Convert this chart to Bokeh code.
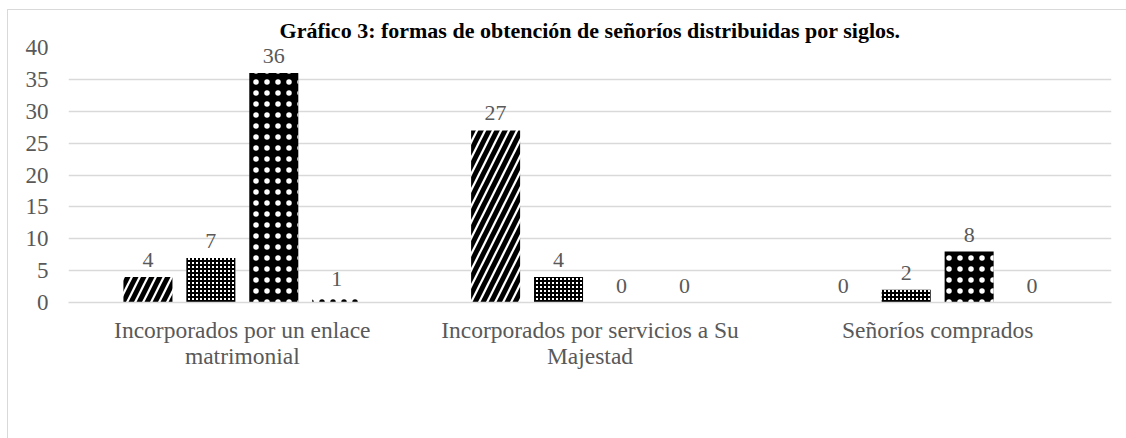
from bokeh.plotting import figure
from bokeh.models import (FactorRange, FixedTicker, Legend, LegendItem,
                          ColumnDataSource)
from bokeh.transform import dodge
from bokeh.core.properties import value
from bokeh.embed import file_html
from bokeh.resources import INLINE

# ---- data ----
title_text = "Gráfico 3: formas de obtención de señoríos distribuidas por siglos."
categories = ["Incorporados por un enlace\nmatrimonial",
              "Incorporados por servicios a Su\nMajestad",
              "Señoríos comprados"]
series = ["Siglo XV", "Siglo XVI", "Siglo XVII", "Siglo XVIII"]
siglo_xv = [4, 27, 0]
siglo_xvi = [7, 4, 2]
siglo_xvii = [36, 0, 8]
siglo_xviii = [1, 0, 0]
y_ticks = [0, 5, 10, 15, 20, 25, 30, 35, 40]

values_by_series = [siglo_xv, siglo_xvi, siglo_xvii, siglo_xviii]

FONT = "Liberation Serif"
GREY = "#595959"
GRID = "#d9d9d9"

p = figure(x_range=FactorRange(factors=categories), y_range=(0, 40),
           frame_width=1043, frame_height=255,
           output_backend="svg", toolbar_location=None,
           min_border_left=60, min_border_right=15, min_border_top=37,
           min_border_bottom=0)
p.styles = {"margin-left": "7px", "margin-top": "9px",
            "border-top": "1px solid #d9d9d9",
            "border-left": "1px solid #d9d9d9"}

p.title.text = title_text
p.title.align = "center"
p.title.offset = 10
p.title.text_font = FONT
p.title.text_font_size = "22px"
p.title.text_font_style = "bold"
p.title.text_color = "black"
p.title.standoff = 10

p.outline_line_color = None
p.xgrid.grid_line_color = None
p.ygrid.grid_line_color = GRID
p.ygrid.grid_line_width = 1.3
p.yaxis.ticker = FixedTicker(ticks=y_ticks)

for ax in (p.xaxis[0], p.yaxis[0]):
    ax.axis_line_color = None
    ax.major_tick_line_color = None
    ax.minor_tick_line_color = None
    ax.major_tick_out = 0
    ax.major_label_text_font = FONT
    ax.major_label_text_color = GREY
p.xaxis.major_label_text_font_size = "23.5px"
p.yaxis.major_label_text_font_size = "23px"
p.xaxis.axis_line_color = GRID
p.xaxis.axis_line_width = 1.3
p.xaxis.major_label_standoff = 14
p.xaxis.major_label_text_line_height = 1.0
p.yaxis.major_label_standoff = 20

offsets = [-0.2715, -0.0905, 0.0905, 0.2715]
bar_w = 0.141
styles = [
    dict(fill_color="white", hatch_pattern="/", hatch_color="black",
         hatch_scale=16, hatch_weight=5),
    dict(fill_color="white", hatch_pattern="+", hatch_color="black",
         hatch_scale=4, hatch_weight=2),
    dict(fill_color="black", hatch_pattern=".", hatch_color="white",
         hatch_scale=11, hatch_weight=1),
    dict(fill_color="white", hatch_pattern=".", hatch_color="black",
         hatch_scale=11, hatch_weight=1),
]

items = []
for name, vals, off, st in zip(series, values_by_series, offsets, styles):
    src = ColumnDataSource(dict(cat=categories, val=vals,
                                lbl=[str(v) for v in vals]))
    xs = dodge("cat", off, range=p.x_range)
    r = p.vbar(x=xs, top="val", width=bar_w, source=src, line_color=None, **st)
    p.text(x=xs, y="val", text="lbl", source=src, text_align="center",
           text_baseline="alphabetic", y_offset=-17,
           text_font=value(FONT), text_font_size="22px", text_color=GREY,
           level="overlay")
    items.append(LegendItem(label=name, renderers=[r]))

legend = Legend(items=items, orientation="horizontal", location="center",
                label_text_font=FONT, label_text_font_size="22.5px",
                label_text_color=GREY, glyph_width=9, glyph_height=9,
                label_standoff=8, spacing=30, border_line_color=None,
                background_fill_alpha=0, padding=0, margin=0)
p.add_layout(legend, "below")

open("out.html", "w").write(file_html(p, INLINE))
